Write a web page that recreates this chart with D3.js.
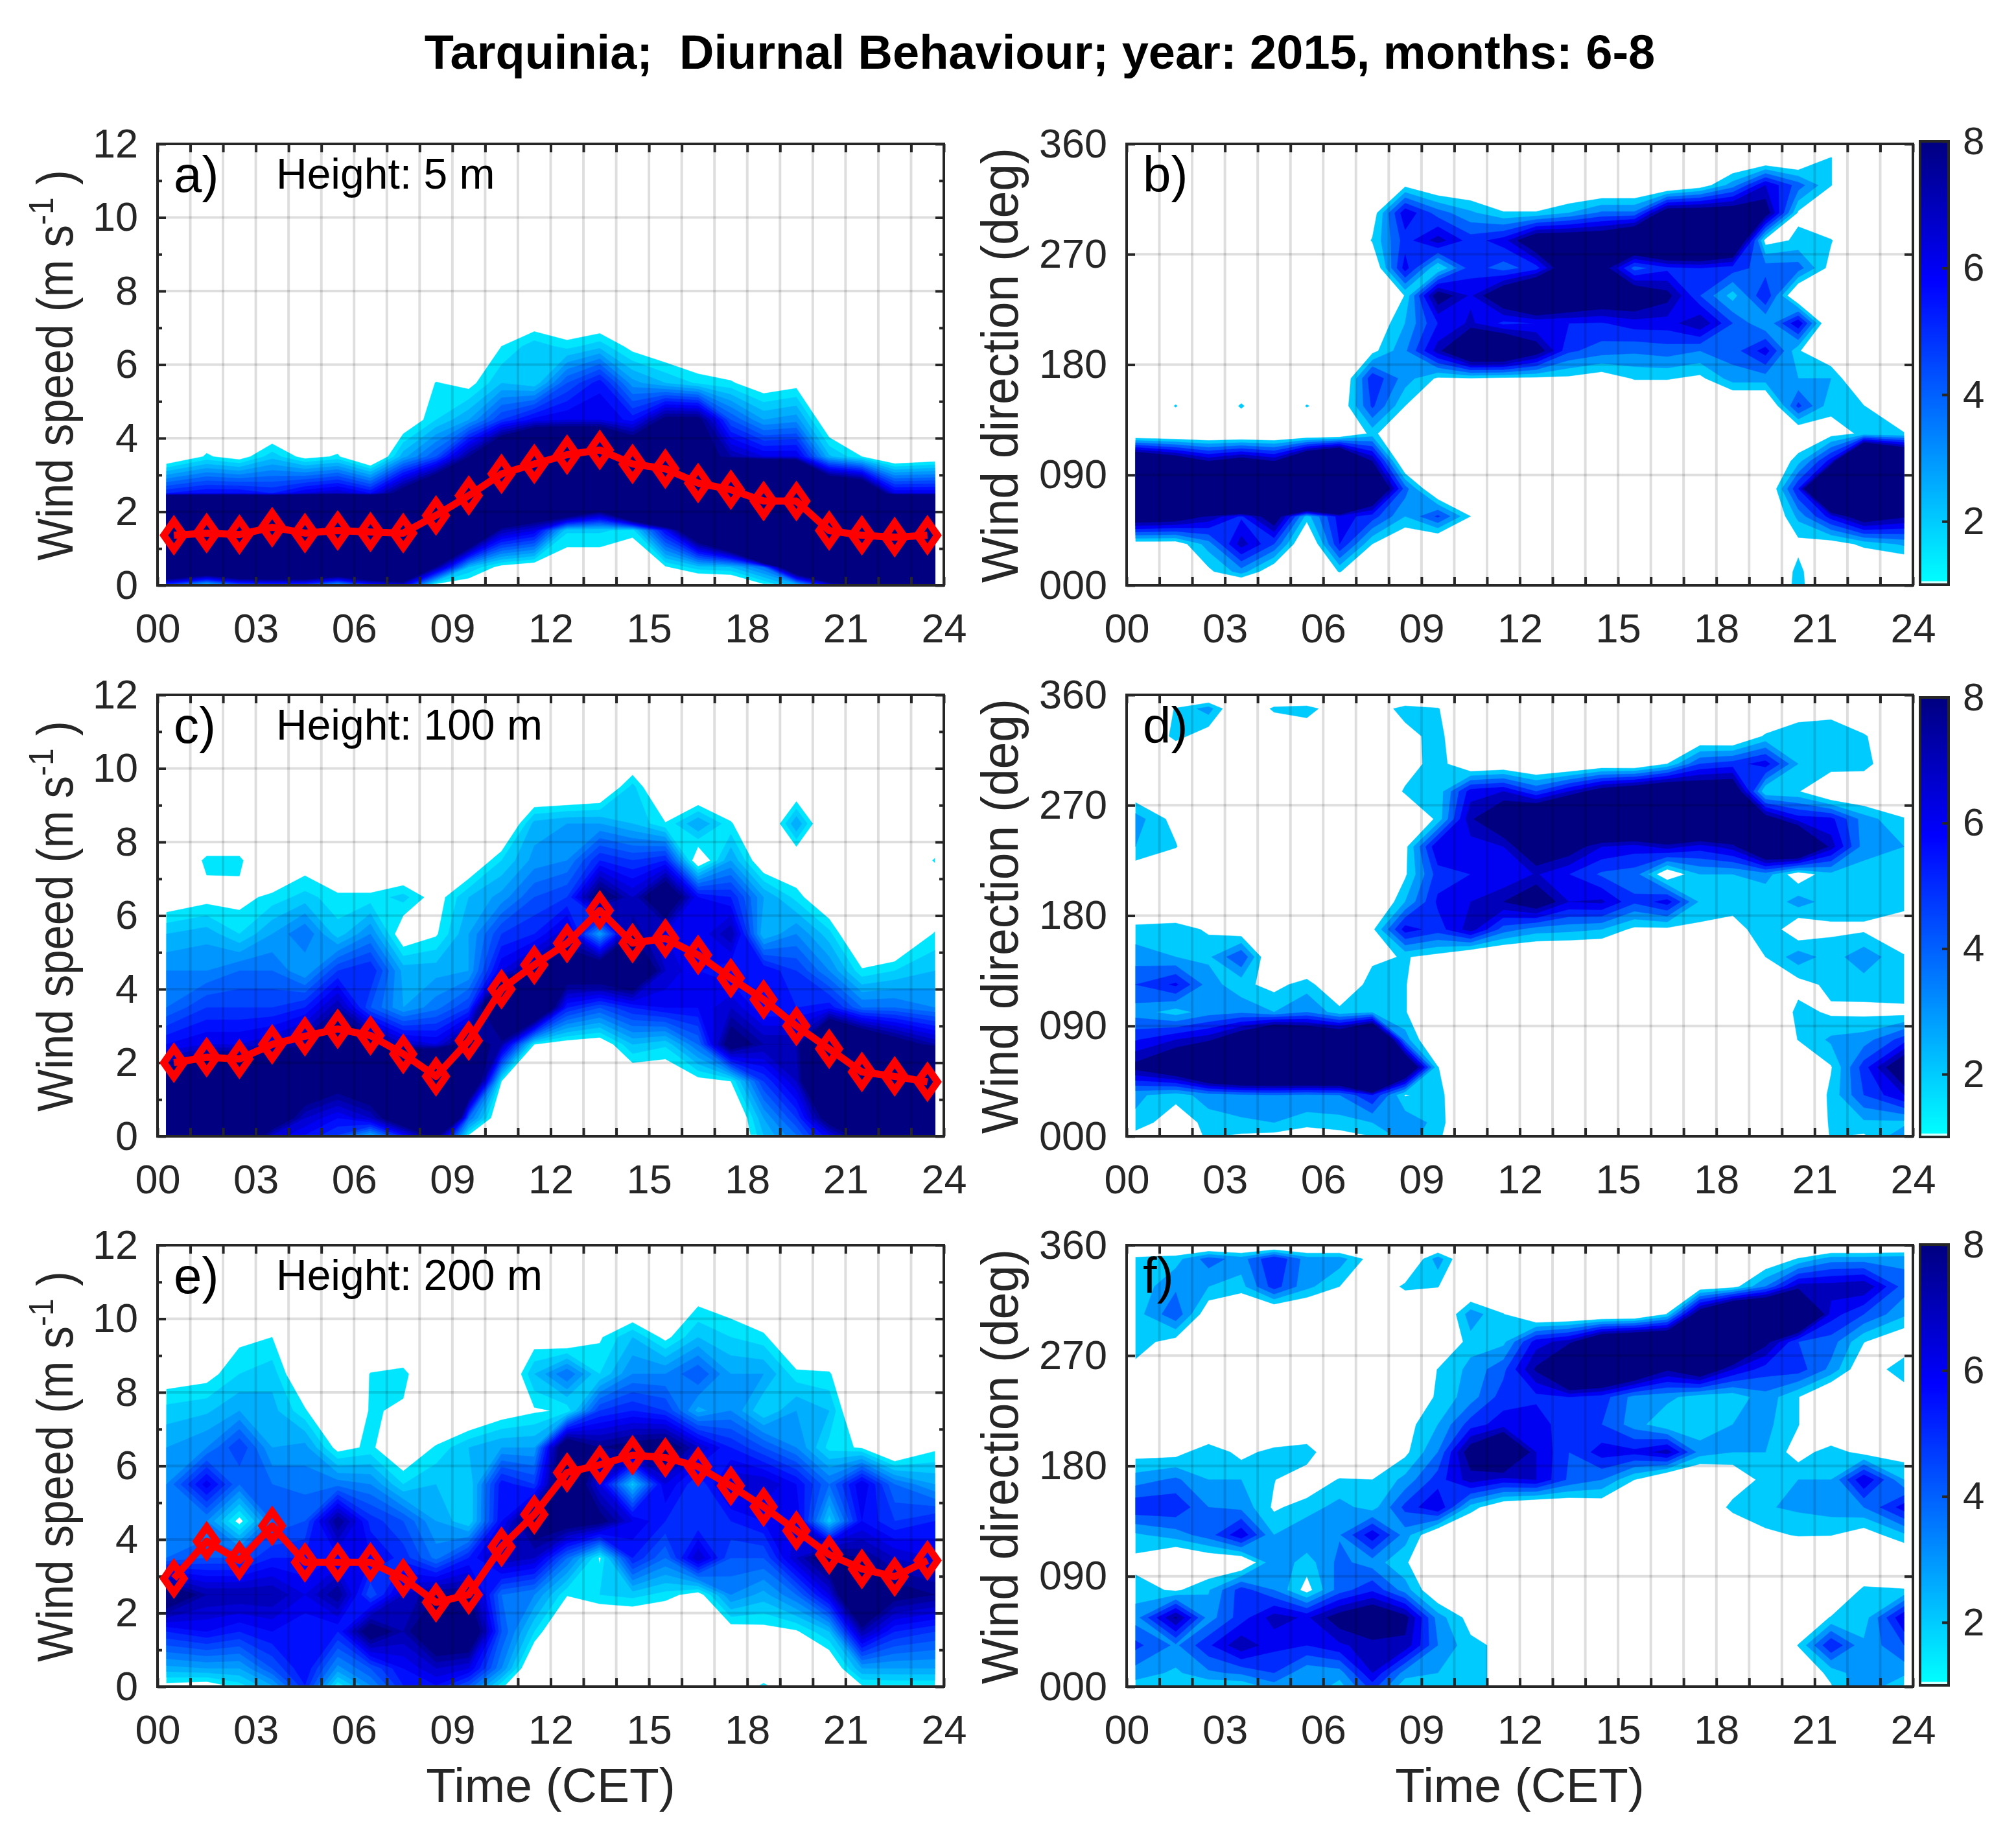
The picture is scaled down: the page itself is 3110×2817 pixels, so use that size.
<!DOCTYPE html>
<html><head><meta charset="utf-8">
<script src="https://cdn.jsdelivr.net/npm/d3@7/dist/d3.min.js"></script>
<style>html,body{margin:0;padding:0;background:#fff}text{font-family:"Liberation Sans",Arial,sans-serif;white-space:pre}</style>
</head><body><svg id="c" width="3110" height="2817"></svg>
<script>
const title="Tarquinia;  Diurnal Behaviour; year: 2015, months: 6-8";
const xTickLabels=["00","03","06","09","12","15","18","21","24"];
const speedTicks=[0,2,4,6,8,10,12];
const dirTicks=[0,90,180,270,360];
const barTicks=[2,4,6,8];
const hourGrid=[.27,1.5,2.5,3.5,4.5,5.5,6.5,7.5,8.5,9.5,10.5,11.5,12.5,13.5,14.5,15.5,16.5,17.5,18.5,19.5,20.5,21.5,22.5,23.73];
const hours=[.5,1.5,2.5,3.5,4.5,5.5,6.5,7.5,8.5,9.5,10.5,11.5,12.5,13.5,14.5,15.5,16.5,17.5,18.5,19.5,20.5,21.5,22.5,23.5];
const speedRows=[.04,.5,1.5,2.5,3.5,4.5,5.5,6.5,7.5,8.5,9.5,10.5,11.5];
const dirRows=[0,11.25,33.75,56.25,78.75,101.25,123.75,146.25,168.75,191.25,213.75,236.25,258.75,281.25,303.75,326.25,348.75,360];
const speedLevels=[1.5,2,2.5,3,3.5,4,4.5,5,5.5,6,6.5,7,7.5,8];
const dirLevels=[2,3,4,5,6,7,8];
const meanA=[1.36,1.42,1.38,1.58,1.42,1.49,1.45,1.42,1.9,2.44,3.03,3.3,3.55,3.68,3.3,3.17,2.78,2.6,2.29,2.29,1.49,1.36,1.31,1.36];
const meanC=[2,2.15,2.1,2.5,2.72,2.92,2.74,2.24,1.63,2.6,4,4.66,5.25,6.14,5.25,5.38,4.93,4.3,3.72,3,2.38,1.75,1.63,1.48];
const meanE=[2.94,3.95,3.43,4.37,3.38,3.38,3.38,2.95,2.29,2.5,3.8,4.68,5.82,6.03,6.29,6.23,5.98,5.46,4.89,4.24,3.59,3.2,2.99,3.43];
const speedA=[
[5.5,3,5,5.5,5.5,3.5,6,7,1.5,1,.5,.5,0,0,0,.5,.2,.3,1.5,3,7,9,9,9],
[15,13,15,15,15,14,16,18,8,2.5,1.2,.8,.8,.8,.3,1.4,2.3,2.5,4,12,20,25,25,25],
[55,55,55,55,55,55,55,55,40,13.5,7.5,6.5,2.1,2.1,1.8,6,11,16,44,50,50,55,55,55],
[5.5,6,6,5.5,6.5,7,6,9,12,20,17,14,19,14,27,30,28,25,28,25,13,12,6.5,6.5],
[.5,1.6,1.1,2.3,1.2,1.6,0,2.8,4.5,8,12,15,15,15,11,15,9,7.5,6.5,6.5,2.6,1.5,.3,.7],
[0,.5,0,0,0,.2,0,.7,2,3,5,6.2,6.5,6.5,5.8,8.5,8.5,4.5,3,3.3,.5,0,0,0],
[0,0,0,0,0,0,0,0,1.55,1.2,2.5,2.1,4.5,5.8,3.2,2.5,1.9,1.6,.9,1.2,0,0,0,0],
[0,0,0,0,0,0,0,0,0,0,1.5,2.3,1.8,2.3,1.2,.7,.3,.1,0,0,0,0,0,0],
[0,0,0,0,0,0,0,0,0,0,0,.3,0,0,0,0,0,0,0,0,0,0,0,0]];
const speedC=[
[12,12,12,7,6,5,3,6,9,1.5,0,0,0,0,0,0,0,0,2.5,4,6.5,9,12,12],
[18,18,18,10,7,6,7,10,20,4,.3,0,0,0,0,0,0,0,3,5,9,14,16,16],
[9,12,12,12,10,9,10,15,20,12,1.5,.2,0,0,.5,.6,1.2,1.5,5,7,14,20,20,20],
[6,6.5,6.5,7,8,9.5,9,7,6.5,9,7.5,1.5,1,.8,2.5,2.1,4,9,7.5,7.5,13,11,9,7.5],
[4,5,5,5,5.5,7.5,4.5,3,3.8,5,13,12,5.5,4.5,5.5,6,6,7,5.5,5.5,5.8,4,4,3.5],
[3.5,3.5,4,4,3,5,5.5,2.8,2.8,3,6.5,8,9.5,10,11,7,6,5.5,6,5,3.5,1.6,2,2.5],
[2.5,2.8,2,3,4,2.2,3.5,.8,1.4,3,5,5.5,7,3,8,6.5,6,7.5,2.5,3.5,2.2,0,0,1.6],
[.8,1.2,1.23,1.7,2.2,1.7,1.7,2.2,1.1,2.5,3.2,4.5,5,9,7,10,6,5.5,3,1.8,.5,0,0,0],
[0,1.7,1.7,0,1,0,0,0,0,.5,2,3.2,3.5,5.5,5,5.5,.6,3,.7,.6,0,0,0,1.6],
[0,0,0,0,0,0,0,0,0,0,0,2.7,3,3,2.5,1.55,3,1.6,0,3,0,0,0,0],
[0,0,0,0,0,0,0,0,0,0,0,0,0,.3,2.2,0,0,0,0,.5,0,0,0,0]];
const speedE=[
[1.3,1.1,1.8,3,5.5,1.7,3.5,5.5,6,4.5,1.7,0,0,0,0,0,0,0,1.7,0,0,1.5,1.6,1.6],
[2.8,3,3,4.5,6,3.3,4.5,6,7,6.5,3.5,.2,0,0,0,0,.3,0,0,0,.5,3,3,3],
[5.5,6,5.5,6,5.5,5.5,9,7.5,10,10,4.5,2,0,0,0,0,.8,1,1.2,1.4,2.5,7.5,5.5,5],
[9.5,7.5,7.5,7.5,6.5,8,4.5,7,8,8,4,3.5,1.55,2,2.2,1.8,1.1,3.5,2.8,4,6.5,12,8.5,8],
[4,4.5,4.5,5.5,5.5,6,6,5.3,3.8,5.5,7.5,7,4,1.4,5.5,4,7,4.5,4.5,7,9,8,7,6.5],
[3.5,3.5,1.2,4,4.5,8,5.3,4.5,3,2,6,9,9,8.5,6.5,5.5,5,5.5,6,6.5,2.2,6,5,5.5],
[3.5,6.3,4,4,3.8,3.8,3.5,2,2.5,2,5.8,5,10,6.5,2.3,6.5,5,7,7,6,4,6.5,4,3],
[3,3.5,5,3,3.2,1.2,1.65,.6,1.6,2.5,3,3,10,8,8.5,9,7,5.5,4.5,3.5,1.8,1.4,0,1.33],
[2.2,2.4,3,2.7,1.6,0,1.6,1.35,0,.3,1,1.4,1.6,5,5.5,5,2.8,3.5,2,3,2.5,0,0,0],
[1,1.2,2,2.3,.4,0,1.55,1.8,0,0,0,2.5,4,2,3.5,3.5,4.5,3,3,1.7,1.6,0,0,0],
[0,0,1.3,1.5,0,0,0,0,0,0,0,1,.4,1.4,2.5,1.28,2.5,2,1.7,0,0,0,0,0],
[0,0,0,0,0,0,0,0,0,0,0,0,0,0,0,0,1.3,1,0,0,0,0,0,0]];
const dirB=[
[0,0,0,0,0,0,0,0,0,0,0,2.1,0,0,0,0,0,0,0,0,2.5,0,0,0],
[0,0,1.7,3.5,.8,0,2.1,0,0,0,0,0,0,0,0,0,0,0,0,0,2.4,0,0,0],
[1.2,1.2,3.5,7.5,5,0,6,2,.5,0,0,0,0,0,0,0,0,0,0,0,1.6,1.3,2.3,3.2],
[10,9.5,7.8,5.8,9.5,2.5,6.5,5.5,3,5.2,2,0,0,0,0,0,0,0,0,0,3.3,6.5,9.5,8.2],
[30,30,30,30,30,30,30,12,4.5,0,0,0,0,0,0,0,0,0,0,0,6,18,30,30],
[12,10,8,9.2,8,12.7,15.7,8,0,0,0,0,0,0,0,0,0,0,0,0,2.6,6.5,20,14],
[0,0,0,0,0,0,0,2.4,0,0,0,0,0,0,0,0,0,0,0,0,.5,1.5,2.2,2.1],
[0,2.1,0,2.2,0,2.1,.8,5.2,2,0,0,0,0,0,0,0,0,0,0,0,5.3,2.3,2.05,0],
[0,0,0,0,0,0,0,5.8,3.5,1.8,1.9,1.7,1.7,1.7,1.2,2.1,2.1,1.7,3.5,3.5,3,3,0,0],
[0,0,0,0,0,0,0,1.6,3.8,7.5,12,12,9,5.2,4.5,4.2,4.5,4,4.5,6.5,2.1,.7,0,0],
[0,0,0,0,0,0,0,.8,3,6,7.2,5.7,6,6,5.9,6.5,6.5,7.9,5,3,6.9,0,0,0],
[0,0,0,0,0,0,0,0,2.05,9,6.8,10,13,11,10,10,8.5,5,2.5,6,0,0,0,0],
[0,0,0,0,0,0,0,.5,6.5,1.9,5.5,4.5,5.5,10,9,4.5,5.7,6,5.5,4.5,4.5,1.5,0,0],
[0,0,0,0,0,0,0,2.1,5.5,7.5,5.5,6.5,10,10,10,12,14,14,12,1.5,2.2,2.1,0,0],
[0,0,0,0,0,0,0,1.2,6.8,4.5,3.2,2.1,2.1,3,4.2,4.2,9.5,9.5,9.5,9,1.8,0,0,0],
[0,0,0,0,0,0,0,0,1.7,.5,.5,0,0,0,0,0,0,1.2,3.5,7,4.5,2.05,0,0],
[0,0,0,0,0,0,0,0,0,0,0,0,0,0,0,0,0,0,0,0,0,2.05,0,0],
[0,0,0,0,0,0,0,0,0,0,0,0,0,0,0,0,0,0,0,0,0,0,0,0]];
const dirD=[
[1.4,1.5,2.1,1.8,1.6,1,1.5,2,3.5,2.3,0,0,0,0,0,0,0,0,0,0,0,2.1,1.8,3.8],
[2.8,1,2.5,2.8,3,2.5,2.6,3,3.8,2.6,0,0,0,0,0,0,0,0,0,0,0,2.2,2.8,2.7],
[3.2,2.5,3.5,3.8,4,3.8,4,6,1.9,2.5,0,0,0,0,0,0,0,0,0,0,0,2.3,5,7],
[8.5,10.5,14,16,16,16,16,30,12,2.05,0,0,0,0,0,0,0,0,0,0,0,1.9,5.5,10],
[5.9,7,7.7,10,14,12,11.5,16,3.5,0,0,0,0,0,0,0,0,0,0,0,2.05,3.2,3.5,5.5],
[3.5,2.5,3.5,3.8,3,4,2.4,2.8,2.1,0,0,0,0,0,0,0,0,0,0,0,2.4,1.8,1.7,1.55],
[5,6.2,3.5,2.3,1.6,2.5,.5,2.6,2.1,0,0,0,0,0,0,0,0,0,0,0,1.5,2.3,2.5,3],
[3.5,3,2.8,5,0,0,0,1.7,2.1,1.5,0,0,0,0,0,0,0,0,0,2,3.6,2.5,3.7,2.1],
[2.4,2.6,1.8,1,0,0,0,1.7,6.5,5.5,7.5,4.5,3.5,3.3,3,1.7,1.7,1.7,1.2,3,.9,1.8,1.8,1],
[0,0,0,0,0,0,0,0,3,6.2,7,8,9.5,7,7.2,5.2,6.5,2.8,2.8,2.05,3.5,2.5,2.5,2.5],
[1,0,0,0,0,0,0,0,1.8,5.5,6,6,7.1,6,4.8,4.5,.8,3,3,3.5,1.2,2.7,2.5,2.4],
[3,2.1,0,0,0,0,0,0,1.6,7,6.5,7,10,9,7,6.5,7.5,6.5,7.5,12,13,7.5,3.5,3],
[3.5,1.5,0,0,0,0,0,0,0,2.3,7.8,10,12,14,14,14,14,14,14,9,6.5,6.3,3.5,2.1],
[1,0,0,0,0,0,0,0,2.2,2.3,6.5,7,5,7,9,10,11,10,10,2,2.1,0,.3,0],
[0,0,0,0,0,0,0,0,1.2,2.7,.3,.6,0,0,.7,.5,2,5,5.5,6.5,3,2.8,2.6,0],
[0,2.4,1.2,0,0,1,0,0,1.5,2.5,0,0,0,0,0,0,0,.5,.2,2.2,2.9,2.9,2.2,0],
[0,2.1,3.5,0,2.3,2.5,1.1,1.1,2.5,2.1,0,0,0,0,0,0,0,0,0,0,1.1,1.4,0,0],
[0,0,0,0,0,0,0,0,0,0,0,0,0,0,0,0,0,0,0,0,0,0,0,0]];
const dirF=[
[2.5,2.2,2.1,2.1,3.5,4,2.5,5.5,2.2,2.3,2.3,1.7,0,0,0,0,0,0,0,0,0,1.9,4,1.8],
[3.5,2.8,3.8,4.2,5,3.2,3.5,7,3.5,3,2.3,1.7,0,0,0,0,0,0,0,0,1,2.3,3.8,3.3],
[5.3,3.8,5.8,7.8,6.3,6,6.8,7.5,7.7,4,2.3,1.7,0,0,0,0,0,0,0,0,2.05,6,3.2,5],
[3.5,8.2,3.5,5.5,7.5,6.8,8.8,10,8.5,3.5,1.5,0,0,0,0,0,0,0,0,0,.5,2.1,2.4,7],
[2.5,1.8,2.9,5.5,4,1.5,4.5,5.8,3.5,.6,0,0,0,0,0,0,0,0,0,0,0,0,2.3,2.1],
[1.6,0,.65,.5,3.8,2.5,4.3,3.5,2.2,0,0,0,0,0,0,0,0,0,0,0,0,0,0,0],
[2.8,3.5,4.5,6.8,3,3.9,3.9,6.7,3.5,.4,0,0,0,0,0,0,0,0,0,1.7,2.1,2.05,1.3,2.8],
[5.8,5.8,4,3.7,1.8,2.5,3.4,2.5,5.3,7,2.5,.7,0,.5,1,0,0,0,2.5,2.9,3.2,3.5,4,6.5],
[3.5,4.2,3,3,2.05,1,2.1,2,3.3,5.5,7.5,6.6,7,4.8,4,2,0,0,.8,2.5,3,3,7,3],
[1.5,1.5,2.8,1.6,2.4,2.8,0,0,1.7,4,9,12,7,5,6.5,6.3,7.5,3.5,3,3,1.4,2.6,1.5,1.4],
[0,0,0,0,0,0,0,0,1.5,3,5.5,6.5,6.8,5,5,3.5,2.1,2.3,3,3.3,2.05,0,0,0],
[0,0,0,0,0,0,0,0,0,2.3,3.5,5.5,5.7,6,5.5,3.6,3.3,2.4,2.3,3.6,2.05,0,0,.95],
[1.7,0,0,0,0,0,0,0,0,2.05,3.3,4.7,8.2,14,13,11,8.2,10,7,5.5,5.5,3.7,.8,2.9],
[2.5,1.5,0,0,0,0,0,0,0,0,2.6,2.7,6.5,7.5,11,12,12,13,13,8.5,5,4.5,2.05,.8],
[2.5,4.8,1,0,0,0,0,0,0,0,3.6,2.05,0,0,0,0,2.05,9.5,14,14,14,6.5,5,3.2],
[2.3,3.8,3,2.6,5.5,3.3,2,.5,2.3,2.05,0,0,0,0,0,0,0,1,1.5,4,7.5,7.5,7.9,4.5],
[2.3,2.6,4.5,3.5,6,3.5,3.5,1.4,0,3.6,0,0,0,0,0,0,0,0,0,.8,2.1,3.5,3.5,3.7],
[0,0,0,0,0,0,0,0,0,0,0,0,0,0,0,0,0,0,0,0,0,0,0,0]];

const INK="#262626";
const svg=d3.select("#c");
const color=d3.scaleLinear().domain([1,1.03,5.8,8]).range(["#00ffff","#00ffff","#0000ff","#000080"]).clamp(true);

const LX=243,RX=1738,W=1213,H=681;
const rows=[
 {top:222,barTop:218,barBot:902,lab:["a)","b)"],h:"Height: 5 m",s:speedA,d:dirB,m:meanA},
 {top:1072,barTop:1076,barBot:1754,lab:["c)","d)"],h:"Height: 100 m",s:speedC,d:dirD,m:meanC},
 {top:1921,barTop:1920,barBot:2600,lab:["e)","f)"],h:"Height: 200 m",s:speedE,d:dirF,m:meanE}];

svg.append("text").attr("x",1604).attr("y",106).attr("text-anchor","middle")
   .attr("font-size",74).attr("font-weight","bold").attr("fill","#000").text(title);

function panel(x0,y0,matrix,rowY,levels,yDomain,yMajor,yMinor,fmt,letter,clipId,showX){
  const x=d3.scaleLinear().domain([0,24]).range([x0,x0+W]);
  const y=d3.scaleLinear().domain(yDomain).range([y0+H,y0]);
  const g=svg.append("g");
  const n=hourGrid.length,m=rowY.length;
  const full=d3.range(m).map(j=>matrix[j]||new Array(n).fill(0));
  const ih=d3.scaleLinear().domain(d3.range(n)).range(hourGrid);
  const iy=d3.scaleLinear().domain(d3.range(m)).range(rowY);
  const tr=d3.geoTransform({point(a,b){this.stream.point(x(ih(a-.5)),y(iy(b-.5)));}});
  const path=d3.geoPath(tr);
  const cs=d3.contours().size([n,m]).thresholds(levels)(full.flat());
  svg.append("clipPath").attr("id",clipId).append("rect")
     .attr("x",x(hourGrid[0])).attr("width",x(hourGrid[n-1])-x(hourGrid[0]))
     .attr("y",y(rowY[m-1])).attr("height",y(rowY[0])-y(rowY[m-1]));
  g.append("g").attr("clip-path",`url(#${clipId})`).selectAll("path").data(cs).join("path")
   .attr("d",path).attr("fill",d=>color(d.value)).attr("stroke",d=>color(d.value)).attr("stroke-width",.5);
  const grid=g.append("g").attr("stroke","#000").attr("stroke-opacity",.13).attr("stroke-width",4);
  d3.range(1,24).forEach(h=>grid.append("line").attr("x1",x(h)).attr("x2",x(h)).attr("y1",y0).attr("y2",y0+H));
  yMajor.slice(1,-1).forEach(v=>grid.append("line").attr("y1",y(v)).attr("y2",y(v)).attr("x1",x0).attr("x2",x0+W));
  const ax=(sel,a)=>{sel.call(a);sel.select(".domain").remove();
    sel.selectAll("line").attr("stroke",INK).attr("stroke-width",4);
    sel.selectAll("text").attr("fill",INK).attr("font-size",63).attr("font-family",'"Liberation Sans"');};
  const hrs=d3.range(0,25);
  ax(g.append("g").attr("transform",`translate(0,${y0+H})`),
     d3.axisBottom(x).tickValues(hrs).tickSize(-13).tickPadding(43).tickFormat(h=>h%3==0?xTickLabels[h/3]:""));
  ax(g.append("g").attr("transform",`translate(0,${y0})`),
     d3.axisTop(x).tickValues(hrs).tickSize(-13).tickFormat(""));
  ax(g.append("g").attr("transform",`translate(${x0},0)`),
     d3.axisLeft(y).tickValues(yMajor).tickSize(-13).tickPadding(30).tickFormat(fmt));
  ax(g.append("g").attr("transform",`translate(${x0+W},0)`),
     d3.axisRight(y).tickValues(yMajor).tickSize(-13).tickFormat(""));
  if(yMinor.length){
    ax(g.append("g").attr("transform",`translate(${x0},0)`),d3.axisLeft(y).tickValues(yMinor).tickSize(-7).tickFormat(""));
    ax(g.append("g").attr("transform",`translate(${x0+W},0)`),d3.axisRight(y).tickValues(yMinor).tickSize(-7).tickFormat(""));
  }
  g.append("rect").attr("x",x0).attr("y",y0).attr("width",W).attr("height",H)
   .attr("fill","none").attr("stroke",INK).attr("stroke-width",4);
  g.append("text").attr("x",x0+25).attr("y",y0+74).attr("font-size",78).attr("fill","#000").text(letter);
  if(showX) g.append("text").attr("x",x0+W/2).attr("y",2780).attr("text-anchor","middle")
     .attr("font-size",75).attr("fill",INK).text("Time (CET)");
  return {x,y,g};
}

rows.forEach((r,i)=>{
  const last=i==2;
  const a=panel(LX,r.top,r.s,speedRows,speedLevels,[0,12],speedTicks,[1,3,5,7,9,11],d=>d,r.lab[0],"ca"+i,last);
  const b=panel(RX,r.top,r.d,dirRows,dirLevels,[0,360],dirTicks,[],d=>d3.format("03d")(d),r.lab[1],"cb"+i,last);
  a.g.append("text").attr("x",426).attr("y",r.top+69).attr("font-size",66).attr("fill","#000").text(r.h);
  const line=d3.line().x((d,k)=>a.x(hours[k])).y(d=>a.y(d));
  a.g.append("path").attr("d",line(r.m)).attr("fill","none").attr("stroke","#ff0000").attr("stroke-width",11).attr("stroke-linejoin","round");
  const dia=d3.path();dia.moveTo(0,-22);dia.lineTo(15.5,0);dia.lineTo(0,22);dia.lineTo(-15.5,0);dia.closePath();
  a.g.append("g").selectAll("path").data(r.m).join("path")
    .attr("transform",(d,k)=>`translate(${a.x(hours[k])},${a.y(d)})`).attr("d",dia.toString())
    .attr("fill","none").attr("stroke","#ff0000").attr("stroke-width",11).attr("stroke-linejoin","miter");
  const cy=r.top+H/2+1;
  const t=a.g.append("text").attr("transform",`translate(112,${cy}) rotate(-90) scale(1,1.12)`).attr("text-anchor","middle")
     .attr("font-size",69).attr("fill",INK);
  t.append("tspan").text("Wind speed (m s");
  t.append("tspan").attr("font-size",48).attr("dy",-27).text("-1");
  t.append("tspan").attr("dy",27).text(" )");
  b.g.append("text").attr("transform",`translate(1570,${cy}) rotate(-90) scale(1,1.05)`).attr("text-anchor","middle")
     .attr("font-size",75).attr("fill",INK).text("Wind direction (deg)");
  const cb=d3.scaleLinear().domain([1,8]).range([r.barBot,r.barTop]);
  const bg=svg.append("g");
  const bx=2962,bw=44;
  bg.selectAll("rect").data(d3.range(1,8,.02)).join("rect").attr("x",bx).attr("width",bw)
    .attr("y",d=>cb(d+.02)-.5).attr("height",d=>cb(d)-cb(d+.02)+1)
    .attr("fill",d=>d<1.05?"#d8ffff":color(d));
  const ca=bg.append("g").attr("transform",`translate(${bx+bw},0)`);
  ca.call(d3.axisRight(cb).tickValues(barTicks).tickSize(-10).tickPadding(22).tickFormat(d=>d));
  ca.select(".domain").remove();
  ca.selectAll("line").attr("stroke",INK).attr("stroke-width",4);
  ca.selectAll("text").attr("fill",INK).attr("font-size",60).attr("font-family",'"Liberation Sans"');
  bg.append("rect").attr("x",bx).attr("y",r.barTop).attr("width",bw).attr("height",r.barBot-r.barTop)
    .attr("fill","none").attr("stroke",INK).attr("stroke-width",4);
});
</script></body></html>
